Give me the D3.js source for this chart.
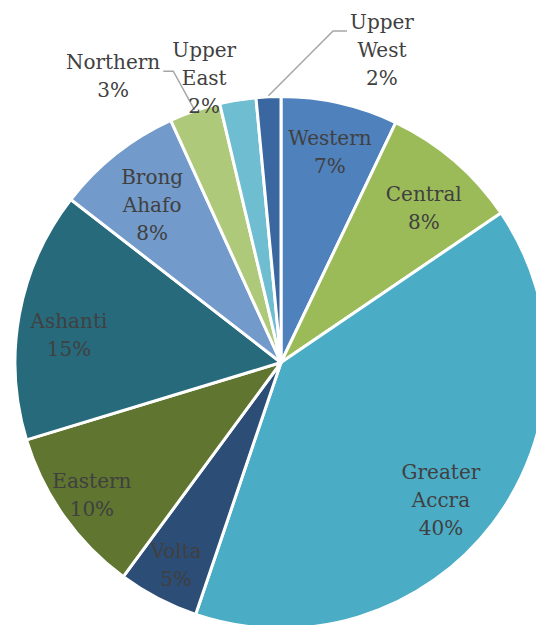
<!DOCTYPE html>
<html>
<head>
<meta charset="utf-8">
<script src="https://cdn.jsdelivr.net/npm/d3@7"></script>
<style>
  html, body { margin: 0; padding: 0; background: #fff; }
  svg text { font-family: "DejaVu Serif", serif; font-size: 20px; fill: #404040; }
</style>
</head>
<body>
<div id="chart"></div>
<script>
// regions, clockwise from 12 o'clock
const regions = ['Western', 'Central', 'Greater Accra', 'Volta', 'Eastern',
                 'Ashanti', 'Brong Ahafo', 'Northern', 'Upper East', 'Upper West'];
const shares = [7.1, 8.4, 39.7, 4.9, 10.2, 15.2, 7.7, 3.1, 2.2, 1.5];
const colours = ['#4f81bd', '#9bbb59', '#4bacc6', '#2c4d75', '#5f7530',
                 '#276a7c', '#729aca', '#afc97a', '#6fbdd1', '#3a67a0'];

const width = 536, height = 625;
const cx = 281, cy = 362.5, r = 266;
const lineH = 28;

// label placement (best-fit look): angle in degrees from top, radius as share of r
const place = {
  'Western':       { ang: 13.1,  rf: 0.812 },
  'Central':       { ang: 42.8,  rf: 0.79 },
  'Greater Accra': { ang: 130.7, rf: 0.793 },
  'Volta':         { ang: 207.4, rf: 0.857 },
  'Eastern':       { ang: 235.0, rf: 0.868 },
  'Ashanti':       { ang: 277.4, rf: 0.804 },
  'Brong Ahafo':   { ang: 320.7, rf: 0.765 },
  'Northern':      { ang: 329.6, rf: 1.248, leader: 'right' },
  'Upper East':    { ang: 344.9, rf: 1.108 },
  'Upper West':    { ang: 17.9,  rf: 1.235, leader: 'left' }
};

const svg = d3.select('#chart').append('svg')
  .attr('width', width)
  .attr('height', height);

const g = svg.append('g').attr('transform', `translate(${cx},${cy})`);

const pie = d3.pie().sort(null).value(d => d.v);
const arc = d3.arc().innerRadius(0).outerRadius(r);

const data = pie(regions.map((n, i) => ({ n: n, v: shares[i], c: colours[i] })));

g.selectAll('path.slice')
  .data(data)
  .enter().append('path')
  .attr('class', 'slice')
  .attr('d', arc)
  .attr('fill', d => d.data.c)
  .attr('stroke', '#fff')
  .attr('stroke-width', 3)
  .attr('stroke-linejoin', 'round');

function polar(a, rad) {
  return [Math.sin(a) * rad, -Math.cos(a) * rad];
}

const labels = g.selectAll('g.lbl')
  .data(data)
  .enter().append('g')
  .attr('class', 'lbl')
  .each(function(d) {
    const o = place[d.data.n];
    const p = polar(o.ang * Math.PI / 180, r * o.rf);
    d.lx = p[0]; d.ly = p[1];
    d.lines = d.data.n.split(' ').concat([Math.round(d.data.v) + '%']);
  });

labels.selectAll('text')
  .data(d => d.lines.map((t, i) => ({ t: t, i: i, p: d })))
  .enter().append('text')
  .attr('x', d => d.p.lx)
  .attr('y', d => d.p.ly + (d.i - (d.p.lines.length - 1) / 2) * lineH)
  .attr('dy', '0.35em')
  .attr('text-anchor', 'middle')
  .text(d => d.t);

// leader lines for labels that sit away from their slice
labels.filter(d => place[d.data.n].leader)
  .each(function(d) {
    const o = place[d.data.n];
    const bb = this.getBBox();
    const mid = (d.startAngle + d.endAngle) / 2;
    const end = polar(mid, r + 1);
    const y0 = bb.y + lineH * 0.5 + 7;
    let x0, x1;
    if (o.leader === 'right') { x0 = bb.x + bb.width + 3; x1 = x0 + 10; }
    else { x0 = bb.x - 3; x1 = x0 - 14; }
    d3.select(this).append('polyline')
      .attr('points', [[x0, y0], [x1, y0], end].map(p => p.join(',')).join(' '))
      .attr('fill', 'none')
      .attr('stroke', '#a6a6a6')
      .attr('stroke-width', 1.5);
  });
</script>
</body>
</html>
